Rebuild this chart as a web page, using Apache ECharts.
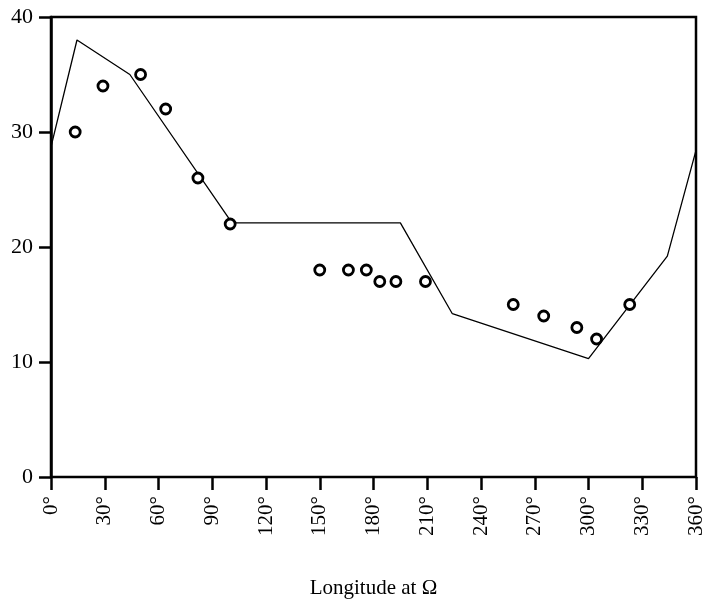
<!DOCTYPE html>
<html><head><meta charset="utf-8">
<script src="https://cdn.jsdelivr.net/npm/echarts@6/dist/echarts.min.js"></script>
<style>html,body{margin:0;padding:0;background:#fff}#c{width:710px;height:602px}</style>
</head><body><div id="c"></div>
<script>
const xTicks = [0,30,60,90,120,150,180,210,240,270,300,330,360];
const yTicks = [0,10,20,30,40];
const lineLon = [0, 14.5, 44, 101, 195, 224, 300, 344, 360];
const lineVal = [28.7, 38, 35, 22.1, 22.1, 14.2, 10.3, 19.2, 28.4];
const ptLon = [13.5, 29, 50, 64, 82, 100, 150, 166, 176, 183.5, 192.5, 209, 258, 275, 293.5, 304.5, 323];
const ptVal = [30, 34, 35, 32, 26, 22, 18, 18, 18, 17, 17, 17, 15, 14, 13, 12, 15];
const xName = 'Longitude at Ω';
const font = '"Liberation Serif", "DejaVu Serif", serif';

const chart = echarts.init(document.getElementById('c'));
chart.setOption({
  animation:false,
  backgroundColor:'#fff',
  grid:{left:51,right:14,top:17,bottom:125,containLabel:false,outerBoundsMode:'none',
    show:true,borderColor:'#000',borderWidth:2.5},
  xAxis:{type:'value',min:0,max:360,interval:30,
    name:xName,nameLocation:'middle',nameGap:101,
    nameTextStyle:{fontFamily:font,fontSize:21,color:'#000'},
    axisLine:{lineStyle:{color:'#000',width:2}},
    axisTick:{length:13,lineStyle:{color:'#000',width:2.5}},
    splitLine:{show:false},
    axisLabel:{rotate:90,fontFamily:font,fontSize:21,color:'#000',margin:19,formatter:v=>v+'°'}},
  yAxis:{type:'value',min:0,max:40,interval:10,
    axisLine:{lineStyle:{color:'#000',width:2.5}},
    axisTick:{length:12,lineStyle:{color:'#000',width:2.5}},
    splitLine:{show:false},
    axisLabel:{fontFamily:font,fontSize:22,color:'#000',margin:18}},
  series:[
    {type:'line',data:lineLon.map((x,i)=>[x,lineVal[i]]),symbol:'none',
     lineStyle:{color:'#000',width:1.3},z:2},
    {type:'scatter',data:ptLon.map((x,i)=>[x,ptVal[i]]),symbol:'circle',symbolSize:10,
     itemStyle:{color:'#fff',borderColor:'#000',borderWidth:2.8,opacity:1},z:3}
  ]
});
</script></body></html>
